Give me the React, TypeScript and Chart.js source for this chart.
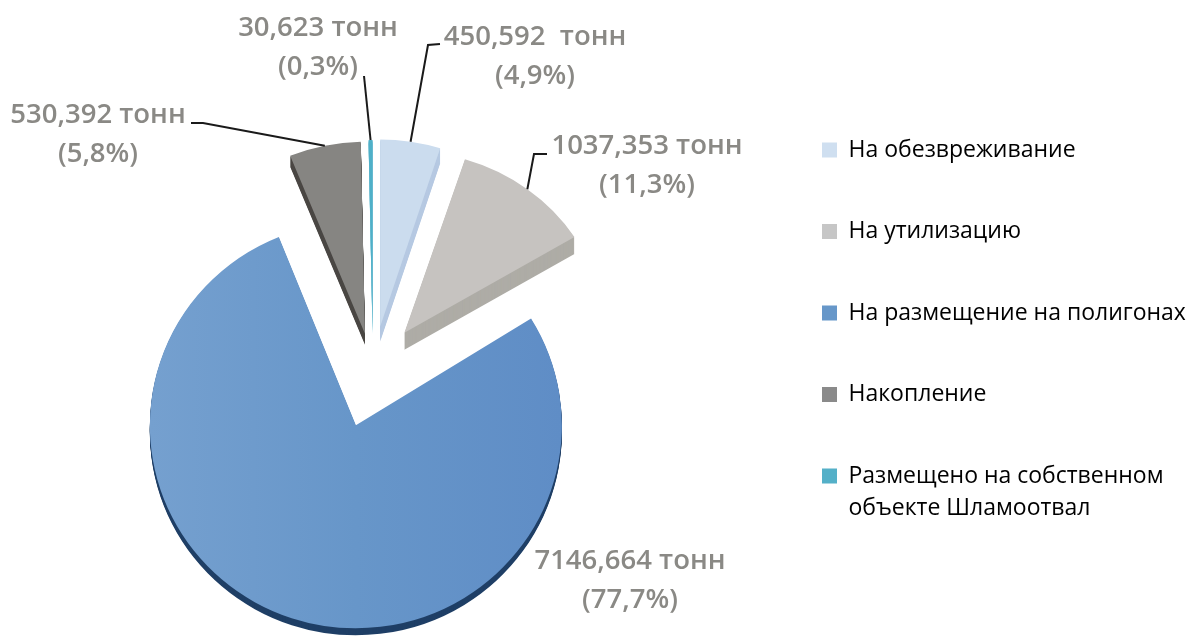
import React, { useEffect, useRef } from "react";
import { Chart, registerables } from "chart.js";

Chart.register(...registerables);

const categories = [
  "На обезвреживание",
  "На утилизацию",
  "На размещение на полигонах",
  "Накопление",
  ["Размещено на собственном", "объекте Шламоотвал"],
];
const tonnes = [450.592, 1037.353, 7146.664, 530.392, 30.623];
const tonneLabels = ["450,592  тонн", "1037,353 тонн", "7146,664 тонн", "530,392 тонн", "30,623 тонн"];
const percentLabels = ["(4,9%)", "(11,3%)", "(77,7%)", "(5,8%)", "(0,3%)"];

const legendColors = ["#cfdff0", "#c6c6c6", "#6797c9", "#8a8a8a", "#54b0c8"];
const rimColors = ["#b6c9e2", "#aeaca6", "#1f3f66", "#4a4744", "#7fc4d6"];
const sliceColors = ["#cbdcee", "#c6c3c0", "", "#868582", "#4fb0c8"];
const explodePx = [47, 51, 55, 40, 43];
const radiusPx = [198, 200, 206, 200, 190];
const verticalPx = [187, 182, 203, 192, 190];
const depthPx = [15, 17, 7, 11, 4];

const pieBox = { left: 0, right: 746, top: 0, bottom: 746 };
const legendPos = { left: 822 - 58.5, top: 80 };

const labelCenters: [number, number][] = [[535, 37], [647, 146], [630, 561], [98, 115], [318, 28]];
const leaderElbows: [number, number][][] = [
  [[440, 44], [428, 45]],
  [[547, 154], [534, 154]],
  [],
  [[191, 123], [203, 123]],
  [[364, 76]],
];

const piePlugin = {
  id: "pieDetails",
  afterLayout(chart: any) {
    const a = chart.chartArea;
    Object.assign(a, pieBox, { width: pieBox.right - pieBox.left, height: pieBox.bottom - pieBox.top });
    chart.legend.left = legendPos.left;
    chart.legend.top = legendPos.top;
  },
  afterDatasetsUpdate(chart: any) {
    const arcs = chart.getDatasetMeta(0).data;
    const cx = (pieBox.left + pieBox.right) / 2;
    const cy = (pieBox.top + pieBox.bottom) / 2;
    arcs.forEach((arc: any, i: number) => {
      const mid = (arc.startAngle + arc.endAngle) / 2;
      arc.x = cx + Math.cos(mid) * explodePx[i];
      arc.y = cy + Math.sin(mid) * explodePx[i];
      arc.outerRadius = radiusPx[i];
      const s = verticalPx[i] / radiusPx[i];
      const baseDraw = arc.draw;
      arc.draw = function (ctx: CanvasRenderingContext2D) {
        ctx.save();
        ctx.translate(this.x, this.y);
        ctx.scale(1, s);
        ctx.translate(-this.x, -this.y);
        baseDraw.call(this, ctx);
        ctx.restore();
      };
    });
  },
  beforeDatasetsDraw(chart: any) {
    const ctx = chart.ctx;
    const arcs = chart.getDatasetMeta(0).data;
    arcs.forEach((arc: any, i: number) => {
      const saved = arc.options;
      arc.options = { ...saved, backgroundColor: rimColors[i], borderWidth: 0 };
      for (let k = depthPx[i]; k >= 1; k--) {
        ctx.save();
        ctx.translate(0, k);
        arc.draw(ctx);
        ctx.restore();
      }
      arc.options = saved;
    });
  },
  afterDatasetsDraw(chart: any) {
    const ctx = chart.ctx;
    const arcs = chart.getDatasetMeta(0).data;
    ctx.save();
    ctx.strokeStyle = "#1a1a1a";
    ctx.lineWidth = 2;
    arcs.forEach((arc: any, i: number) => {
      const pts = leaderElbows[i];
      if (!pts.length) return;
      const mid = (arc.startAngle + arc.endAngle) / 2;
      ctx.beginPath();
      pts.forEach((p, j) => (j ? ctx.lineTo(p[0], p[1]) : ctx.moveTo(p[0], p[1])));
      ctx.lineTo(arc.x + Math.cos(mid) * radiusPx[i], arc.y + Math.sin(mid) * verticalPx[i]);
      ctx.stroke();
    });
    ctx.fillStyle = "#8a8985";
    ctx.font = '600 27.5px "Open Sans"';
    ctx.textAlign = "center";
    ctx.textBaseline = "middle";
    labelCenters.forEach((p, i) => {
      ctx.fillText(tonneLabels[i], p[0], p[1]);
      ctx.fillText(percentLabels[i], p[0], p[1] + 39);
    });
    ctx.restore();
  },
};

export default function App() {
  const ref = useRef<HTMLCanvasElement>(null);
  useEffect(() => {
    const canvas = ref.current!;
    const ctx = canvas.getContext("2d")!;
    const blue = ctx.createLinearGradient(150, 0, 562, 0);
    blue.addColorStop(0, "#75a0cf");
    blue.addColorStop(0.5, "#6796c9");
    blue.addColorStop(1, "#5f8dc6");
    const colors = sliceColors.map((c) => c || blue);
    const chart = new Chart(canvas, {
      type: "pie",
      data: {
        labels: categories as any,
        datasets: [
          {
            data: tonnes,
            backgroundColor: colors as any,
            borderWidth: 0,
            clip: false as any,
          },
        ],
      },
      options: {
        responsive: false,
        animation: false,
        radius: 190,
        rotation: 0,
        plugins: {
          tooltip: { enabled: false },
          legend: {
            position: "right",
            align: "start",
            labels: {
              boxWidth: 15,
              boxHeight: 15,
              padding: 58.5,
              color: "#333333",
              font: { family: '"Open Sans"', size: 23, lineHeight: 1.43 },
              generateLabels: () =>
                categories.map((text, i) => ({
                  text: text as any,
                  fillStyle: legendColors[i],
                  strokeStyle: "transparent",
                  lineWidth: 0,
                  hidden: false,
                  index: i,
                })),
            },
          },
        },
      } as any,
      plugins: [piePlugin],
    });
    return () => chart.destroy();
  }, []);
  return (
    <div style={{ position: "fixed", left: 0, top: 0, width: 1189, height: 636, background: "#fff" }}>
      <canvas ref={ref} width={1189} height={636} style={{ display: "block" }} />
    </div>
  );
}
